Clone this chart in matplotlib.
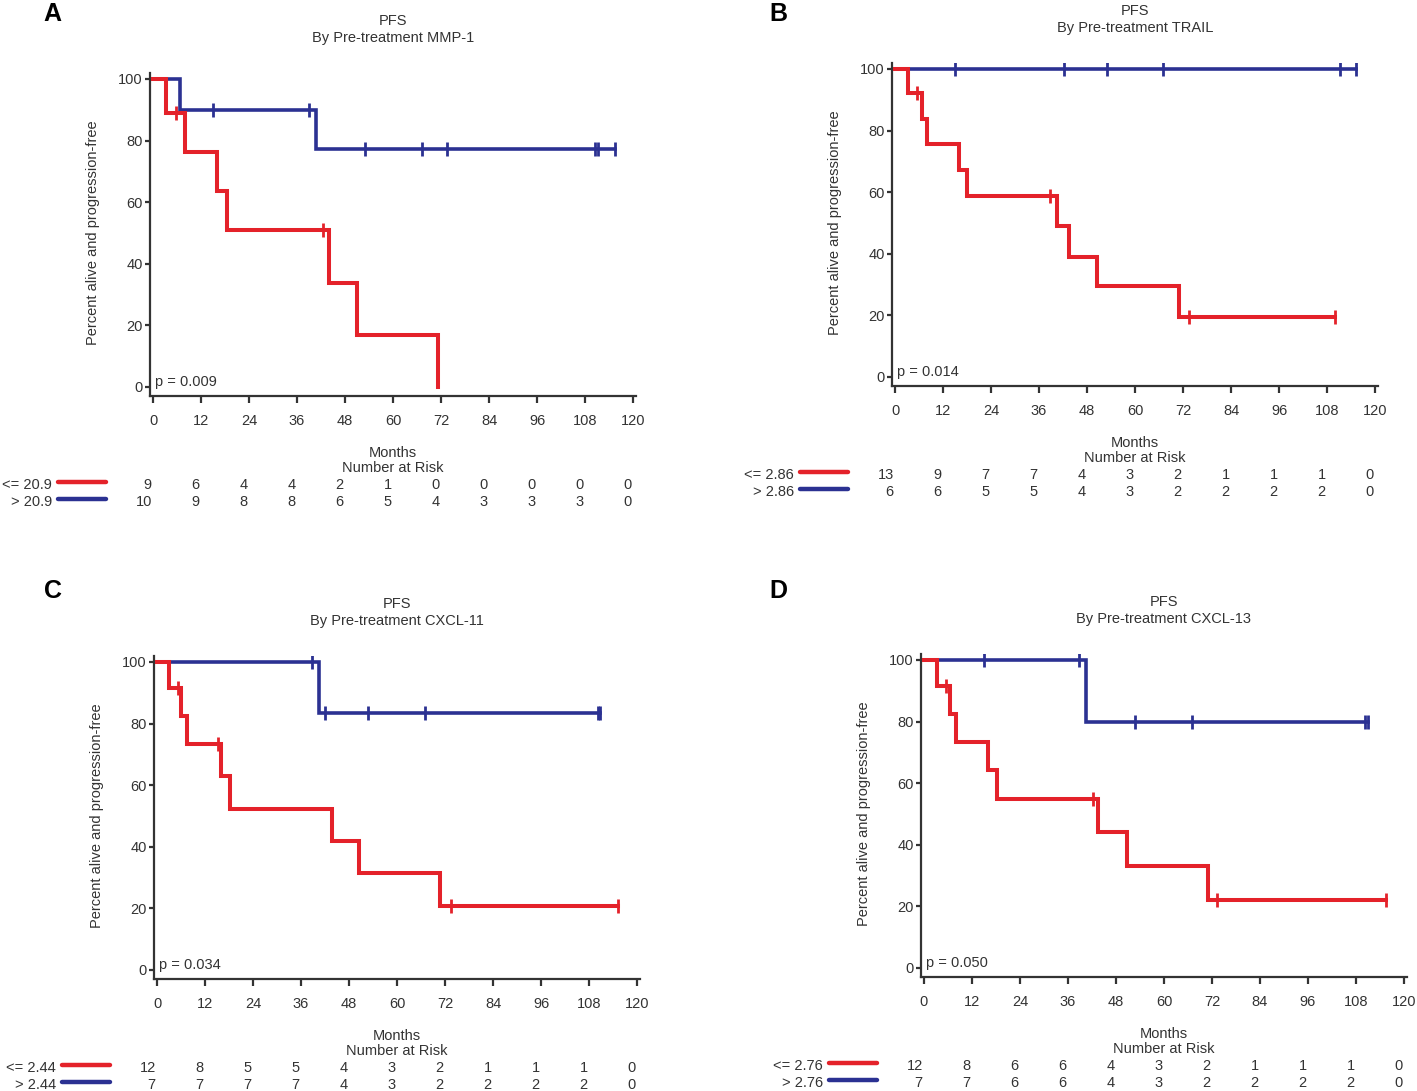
import numpy as np
import matplotlib
matplotlib.use("Agg")
import matplotlib.pyplot as plt
from matplotlib.transforms import blended_transform_factory

plt.rcParams['font.family'] = ['Liberation Sans', 'DejaVu Sans']

W, H = 1417, 1091
RED = '#e4222a'
BLUE = '#2b3192'
INK = '#333333'

months = list(range(0, 121, 12))
y_ticks = [0, 20, 40, 60, 80, 100]

# ---- panel A : MMP-1 ----
a_title = 'By Pre-treatment MMP-1'
a_p = 'p = 0.009'
a_labels = ['<= 20.9', '> 20.9']
a_red_t = [3.25, 8, 16, 18.5, 44, 51, 71.25]
a_red_s = [88.9, 76.2, 63.5, 50.8, 33.9, 16.9, 0.0]
a_red_c = [5.75, 42.5]
a_blue_t = [6.75, 40.75]
a_blue_s = [90.0, 77.1]
a_blue_c = [15, 39, 53, 67.25, 73.5, 110.5, 111.25, 115.5]
a_red_risk = [9, 6, 4, 4, 2, 1, 0, 0, 0, 0, 0]
a_blue_risk = [10, 9, 8, 8, 6, 5, 4, 3, 3, 3, 0]

# ---- panel B : TRAIL ----
b_title = 'By Pre-treatment TRAIL'
b_p = 'p = 0.014'
b_labels = ['<= 2.86', '> 2.86']
b_red_t = [3.25, 6.75, 8, 16, 18, 40.5, 43.5, 50.5, 71]
b_red_s = [92.3, 83.9, 75.5, 67.1, 58.7, 48.9, 39.1, 29.4, 19.6]
b_red_c = [5.5, 38.75, 73.5, 110]
b_blue_t = []
b_blue_s = []
b_blue_c = [15, 42.25, 53, 67, 111.25, 115.25]
b_red_risk = [13, 9, 7, 7, 4, 3, 2, 1, 1, 1, 0]
b_blue_risk = [6, 6, 5, 5, 4, 3, 2, 2, 2, 2, 0]

# ---- panel C : CXCL-11 ----
c_title = 'By Pre-treatment CXCL-11'
c_p = 'p = 0.034'
c_labels = ['<= 2.44', '> 2.44']
c_red_t = [3, 6, 7.5, 16, 18.25, 43.75, 50.5, 70.75]
c_red_s = [91.7, 82.5, 73.3, 62.9, 52.4, 41.9, 31.4, 20.9]
c_red_c = [5.25, 15.25, 73.5, 115.25]
c_blue_t = [40.5]
c_blue_s = [83.3]
c_blue_c = [38.75, 42, 52.75, 67, 110.25, 110.75]
c_red_risk = [12, 8, 5, 5, 4, 3, 2, 1, 1, 1, 0]
c_blue_risk = [7, 7, 7, 7, 4, 3, 2, 2, 2, 2, 0]

# ---- panel D : CXCL-13 ----
d_title = 'By Pre-treatment CXCL-13'
d_p = 'p = 0.050'
d_labels = ['<= 2.76', '> 2.76']
d_red_t = [3.25, 6.5, 8, 16, 18.25, 43.5, 50.75, 71]
d_red_s = [91.7, 82.5, 73.3, 64.2, 55.0, 44.0, 33.0, 22.0]
d_red_c = [5.5, 42.25, 73.25, 115.5]
d_blue_t = [40.5]
d_blue_s = [80.0]
d_blue_c = [15, 38.75, 52.75, 67, 110.25, 111]
d_red_risk = [12, 8, 6, 6, 4, 3, 2, 1, 1, 1, 0]
d_blue_risk = [7, 7, 6, 6, 4, 3, 2, 2, 2, 2, 0]

panels = [
    dict(letter='A', letter_xy=(52, 14), box=(150, 72.8, 636, 396.2), title=a_title, p=a_p,
         labels=a_labels, red=(a_red_t, a_red_s, a_red_c), blue=(a_blue_t, a_blue_s, a_blue_c),
         risk=(a_red_risk, a_blue_risk)),
    dict(letter='B', letter_xy=(778, 14), box=(892, 62.8, 1378, 386.2), title=b_title, p=b_p,
         labels=b_labels, red=(b_red_t, b_red_s, b_red_c), blue=(b_blue_t, b_blue_s, b_blue_c),
         risk=(b_red_risk, b_blue_risk)),
    dict(letter='C', letter_xy=(53, 591), box=(154, 655.8, 640, 979.2), title=c_title, p=c_p,
         labels=c_labels, red=(c_red_t, c_red_s, c_red_c), blue=(c_blue_t, c_blue_s, c_blue_c),
         risk=(c_red_risk, c_blue_risk)),
    dict(letter='D', letter_xy=(778, 591), box=(921, 653.8, 1407, 977.2), title=d_title, p=d_p,
         labels=d_labels, red=(d_red_t, d_red_s, d_red_c), blue=(d_blue_t, d_blue_s, d_blue_c),
         risk=(d_red_risk, d_blue_risk)),
]


def fx(x):
    return x / W


def fy(y):
    return 1 - y / H


def draw_curve(ax, drop_t, levels, cens_t, color, lw):
    end = max(list(drop_t) + list(cens_t))
    t = [0] + list(drop_t) + [end]
    s = [100] + list(levels) + [levels[-1] if levels else 100]
    ax.step(t, s, where='post', color=color, lw=lw, solid_joinstyle='miter', zorder=3)
    cy = []
    for c in cens_t:
        idx = np.searchsorted(drop_t, c, side='right') - 1
        cy.append(100 if idx < 0 else levels[idx])
    ax.plot(cens_t, cy, ls='none', marker='|', ms=9.5, mew=2.0, color=color, zorder=4)


fig = plt.figure(figsize=(W / 100, H / 100), dpi=100)
fs = 10.5

for pn in panels:
    l, t, r, b = pn['box']
    ax = fig.add_axes([fx(l), fy(b), (r - l) / W, (b - t) / H])
    ax.set_xlim(-0.75, 120.75)
    ax.set_ylim(-3, 102)
    for side in ['top', 'right']:
        ax.spines[side].set_visible(False)
    for side in ['left', 'bottom']:
        ax.spines[side].set_linewidth(1.6)
        ax.spines[side].set_color(INK)
    ax.set_xticks(months)
    ax.set_yticks(y_ticks)
    ax.tick_params(direction='out', width=1.6, color=INK, labelcolor=INK, labelsize=fs)
    ax.tick_params(axis='y', length=3.8, pad=1.5)
    ax.tick_params(axis='x', length=5.0, pad=7.5)

    draw_curve(ax, *pn['blue'], BLUE, 2.6)
    draw_curve(ax, *pn['red'], RED, 2.9)

    ax.text(0.5, 1.5, pn['p'], fontsize=fs, color=INK, va='center', ha='left')

    # titles, letter, ylabel
    tr = blended_transform_factory(ax.transData, fig.transFigure)
    ax.text(60, fy(t - 52), 'PFS', transform=tr, ha='center', va='center', fontsize=fs, color=INK)
    ax.text(60, fy(t - 35), pn['title'], transform=tr, ha='center', va='center', fontsize=fs, color=INK)
    fig.text(fx(pn['letter_xy'][0]), fy(pn['letter_xy'][1]), pn['letter'], fontsize=18,
             fontweight='bold', ha='center', va='center', color='black')
    y_mid = b - (3 + 50) * (b - t) / 105
    fig.text(fx(l - 57), fy(y_mid), 'Percent alive and progression-free', rotation=90,
             ha='center', va='center', fontsize=fs, color=INK)

    # risk table
    ax.text(60, fy(b + 56.5), 'Months', transform=tr, ha='center', va='center', fontsize=fs, color=INK)
    ax.text(60, fy(b + 71.5), 'Number at Risk', transform=tr, ha='center', va='center', fontsize=fs, color=INK)
    for row, (lab, counts, col) in enumerate(zip(pn['labels'], pn['risk'], [RED, BLUE])):
        yy = b + 89 + 17 * row
        fig.text(fx(l - 98), fy(yy), lab, ha='right', va='center', fontsize=fs, color=INK)
        fig.add_artist(plt.Line2D([fx(l - 92), fx(l - 44)], [fy(yy - 3), fy(yy - 3)],
                                  color=col, lw=3.2, solid_capstyle='round'))
        for m, n in zip(months, counts):
            ax.text(m - 0.3, fy(yy), str(n), transform=tr, ha='right', va='center',
                    fontsize=fs, color=INK, clip_on=False)

fig.savefig('out.png', dpi=100)
